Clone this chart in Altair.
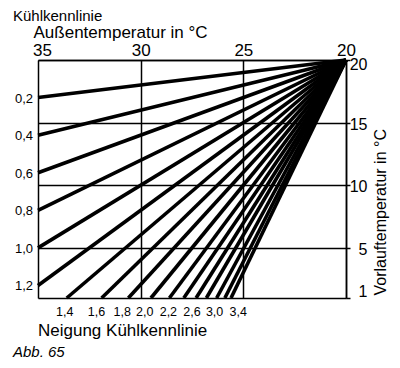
import altair as alt
import pandas as pd

# ---- data ----
slopes = ["0,2", "0,4", "0,6", "0,8", "1,0", "1,2", "1,4", "1,6", "1,8",
          "2,0", "2,2", "2,4", "2,6", "2,8", "3,0", "3,2", "3,4"]
# every curve starts at (Außentemperatur 20, Vorlauf 20)
origin_aussen = 20
origin_vorlauf = 20
# end points of each curve (at the left or bottom edge)
end_aussen = [35, 35, 35, 35, 35, 35, 33.6, 31.9, 30.6,
              29.5, 28.6, 27.9, 27.3, 26.8, 26.3, 25.9, 25.6]
end_vorlauf = [17, 14, 11, 8, 5, 2, 1, 1, 1,
               1, 1, 1, 1, 1, 1, 1, 1]
left_labels = ["0,2", "0,4", "0,6", "0,8", "1,0", "1,2"]
# labels under the bottom edge and where they sit on the Außentemperatur scale
bottom_labels = ["1,4", "1,6", "1,8", "2,0", "2,2", "2,6", "3,0", "3,4"]
bottom_label_aussen = [33.7, 32.15, 30.9, 29.8, 28.65, 27.5, 26.4, 25.25]
x_ticks = [35, 30, 25, 20]
y_ticks = [20, 15, 10, 5, 1]

FONT = "Liberation Sans"

rows = []
for s, ea, ev in zip(slopes, end_aussen, end_vorlauf):
    rows.append({"k": s, "aussen": origin_aussen, "vorlauf": origin_vorlauf, "o": 0})
    rows.append({"k": s, "aussen": ea, "vorlauf": ev, "o": 1})
lines_df = pd.DataFrame(rows)

ends_df = pd.DataFrame({"k": slopes, "aussen": end_aussen, "vorlauf": end_vorlauf})
left_df = ends_df[ends_df["k"].isin(left_labels)]
bottom_df = pd.DataFrame({"k": bottom_labels, "aussen": bottom_label_aussen,
                          "vorlauf": [min(y_ticks)] * len(bottom_labels)})

x_scale = alt.Scale(domain=[20, 35], reverse=True, nice=False, zero=False)
y_scale = alt.Scale(domain=[1, 20], nice=False, zero=False)

x_axis = alt.Axis(
    orient="top", values=x_ticks, grid=True, gridColor="black", gridWidth=1.5,
    gridOpacity=1, ticks=False, domain=True, domainColor="black", domainWidth=1.5,
    labelFont=FONT, labelFontSize=17, labelColor="black", labelPadding=1,
    labelFlush=False, labelOverlap=False,
    labelOffset={"condition": {"test": "datum.value == 35", "value": 4}, "value": 0},
    title="Außentemperatur in °C", titleFont=FONT, titleFontSize=17,
    titleFontWeight="normal", titleColor="black", titleAlign="left",
    titleBaseline="middle", titleX=-5, titleY=-28,
)
y_axis = alt.Axis(
    orient="right", values=y_ticks, grid=True, gridColor="black", gridWidth=1.5,
    gridOpacity=1, ticks=True, tickSize=4, tickColor="black", tickWidth=1.5,
    domain=True, domainColor="black", domainWidth=1.5,
    labelFont=FONT, labelFontSize=16, labelColor="black", labelAlign="right",
    labelPadding=17, labelFlush=False, labelOverlap=False,
    labelBaseline={"condition": {"test": "datum.value == 1", "value": "bottom"},
                   "value": "middle"},
    labelOffset={"condition": {"test": "datum.value == 20", "value": 4}, "value": 1.5},
    title="Vorlauftemperatur in °C", titleFont=FONT, titleFontSize=16,
    titleFontWeight="normal", titleColor="black", titleAngle=270,
    titleAlign="left", titleBaseline="middle", titleX=34, titleY=235,
)

base_lines = alt.Chart(lines_df).mark_line(
    color="black", strokeWidth=3.6, strokeCap="butt"
).encode(
    x=alt.X("aussen:Q", scale=x_scale, axis=x_axis),
    y=alt.Y("vorlauf:Q", scale=y_scale, axis=y_axis),
    detail="k:N",
    order="o:Q",
)

left_text = alt.Chart(left_df).mark_text(
    align="right", baseline="middle", dx=-5, dy=1, font=FONT, fontSize=13, color="black"
).encode(
    x=alt.X("aussen:Q", scale=x_scale),
    y=alt.Y("vorlauf:Q", scale=y_scale),
    text="k:N",
)

bottom_text = alt.Chart(bottom_df).mark_text(
    align="center", baseline="middle", dy=14, font=FONT, fontSize=12.5, color="black"
).encode(
    x=alt.X("aussen:Q", scale=x_scale),
    y=alt.Y("vorlauf:Q", scale=y_scale),
    text="k:N",
)

def static_text(txt, px, py, size, style="normal"):
    return alt.Chart(pd.DataFrame({"t": [txt]})).mark_text(
        align="left", baseline="middle", font=FONT, fontSize=size,
        fontStyle=style, color="black"
    ).encode(x=alt.value(px), y=alt.value(py), text="t:N")

t_title = static_text("Kühlkennlinie", -25, -44, 15)
t_bottom = static_text("Neigung Kühlkennlinie", 0, 271, 17)
t_abb = static_text("Abb. 65", -25, 292, 15, "italic")

chart = alt.layer(
    base_lines, left_text, bottom_text, t_title, t_bottom, t_abb
).properties(
    width=308, height=238,
    autosize=alt.AutoSizeParams(type="none"),
    padding={"left": 30, "top": 52, "right": 46, "bottom": 62},
).configure_view(
    stroke="black", strokeWidth=1.5
).configure(background="white")

chart.save("out.html", embed_options={"renderer": "svg", "actions": False})
